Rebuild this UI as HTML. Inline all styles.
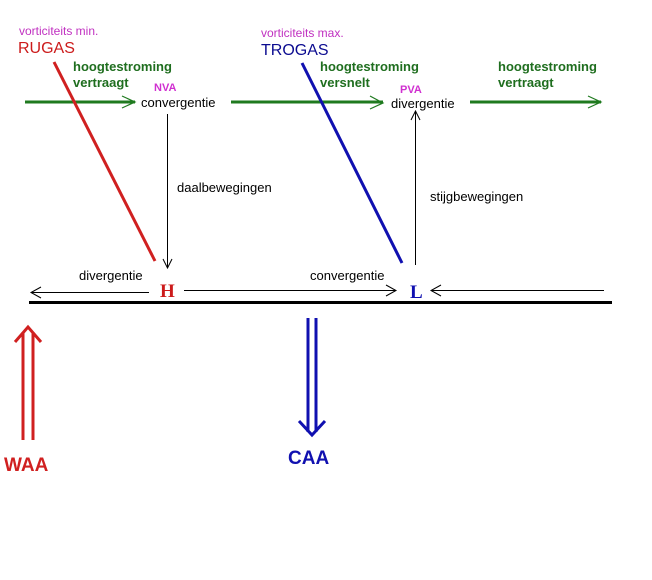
<!DOCTYPE html>
<html><head><meta charset="utf-8"><style>
html,body{margin:0;padding:0;background:#fff;}
svg{display:block;}
text{font-family:"Liberation Sans",sans-serif;}
</style></head><body>
<svg width="652" height="580" viewBox="0 0 652 580" xmlns="http://www.w3.org/2000/svg">
<rect width="652" height="580" fill="#fff"/>
<!-- top labels -->
<text x="19" y="35" font-size="12" fill="#c030c0">vorticiteits min.</text>
<text x="18" y="53" font-size="16" fill="#cc1b1b">RUGAS</text>
<text x="261" y="37" font-size="12" fill="#c030c0">vorticiteits max.</text>
<text x="261" y="55" font-size="16" fill="#0b0b90">TROGAS</text>
<g font-size="13" font-weight="bold" fill="#1f6e1f">
<text x="73" y="71">hoogtestroming</text>
<text x="73" y="87">vertraagt</text>
<text x="320" y="71">hoogtestroming</text>
<text x="320" y="87">versnelt</text>
<text x="498" y="71">hoogtestroming</text>
<text x="498" y="87">vertraagt</text>
</g>
<text x="154" y="91" font-size="11" font-weight="bold" fill="#d030d0">NVA</text>
<text x="400" y="93" font-size="11" font-weight="bold" fill="#d030d0">PVA</text>
<text x="141" y="107" font-size="13" fill="#000">convergentie</text>
<text x="391" y="108" font-size="13" fill="#000">divergentie</text>
<!-- green arrows -->
<g stroke="#1f7a1f" stroke-width="3" fill="none">
<line x1="25" y1="102" x2="135" y2="102"/>
<line x1="231" y1="102" x2="383" y2="102"/>
<line x1="470" y1="102" x2="601" y2="102"/>
</g>
<g stroke="#1f7a1f" stroke-width="1.2" fill="none">
<polyline points="122,96 135,102 122,108"/>
<polyline points="370,96 383,103 370,109"/>
<polyline points="588,96 601,102 588,108"/>
</g>
<!-- trough lines -->
<line x1="54" y1="62" x2="155" y2="261" stroke="#d02020" stroke-width="3"/>
<line x1="302" y1="63" x2="402" y2="263" stroke="#1010b0" stroke-width="3"/>
<!-- vertical motion -->
<g stroke="#000" stroke-width="1" fill="none">
<line x1="167.5" y1="114" x2="167.5" y2="267"/>
<polyline points="163,259 167.5,268 172,259"/>
<line x1="415.5" y1="112" x2="415.5" y2="265"/>
<polyline points="411,120 415.5,111 420,120"/>
</g>
<text x="177" y="192" font-size="13" fill="#000">daalbewegingen</text>
<text x="430" y="201" font-size="13" fill="#000">stijgbewegingen</text>
<!-- surface -->
<text x="79" y="280" font-size="13" fill="#000">divergentie</text>
<text x="310" y="280" font-size="13" fill="#000">convergentie</text>
<text x="160" y="297" font-size="19" font-weight="bold" font-family="Liberation Serif,serif" fill="#cc1b1b" style="font-family:'Liberation Serif',serif">H</text>
<text x="410" y="298" font-size="19" font-weight="bold" fill="#1010b0" style="font-family:'Liberation Serif',serif">L</text>
<g stroke="#000" stroke-width="1" fill="none">
<line x1="31" y1="300.5" x2="149" y2="300.5" transform="translate(0,-8)"/>
<polyline points="41,287 31,292.5 41,298"/>
<line x1="184" y1="290.5" x2="396" y2="290.5"/>
<polyline points="386,285 396,290.5 386,296"/>
<line x1="431" y1="290.5" x2="604" y2="290.5"/>
<polyline points="441,285 431,290.5 441,296"/>
</g>
<rect x="29" y="301" width="583" height="3" fill="#000"/>
<!-- WAA -->
<g stroke="#d02020" stroke-width="3" fill="none">
<line x1="23" y1="332" x2="23" y2="440"/>
<line x1="33" y1="332" x2="33" y2="440"/>
<polyline points="15,357 28,342 41,357" transform="translate(0,-15)"/>
</g>
<text x="4" y="471" font-size="19" font-weight="bold" fill="#d02020">WAA</text>
<!-- CAA -->
<g stroke="#1010b0" stroke-width="3" fill="none">
<line x1="308" y1="318" x2="308" y2="432"/>
<line x1="316" y1="318" x2="316" y2="432"/>
<polyline points="299,421 312,435 325,421"/>
</g>
<text x="288" y="464" font-size="19" font-weight="bold" fill="#1010b0">CAA</text>
</svg>
</body></html>
